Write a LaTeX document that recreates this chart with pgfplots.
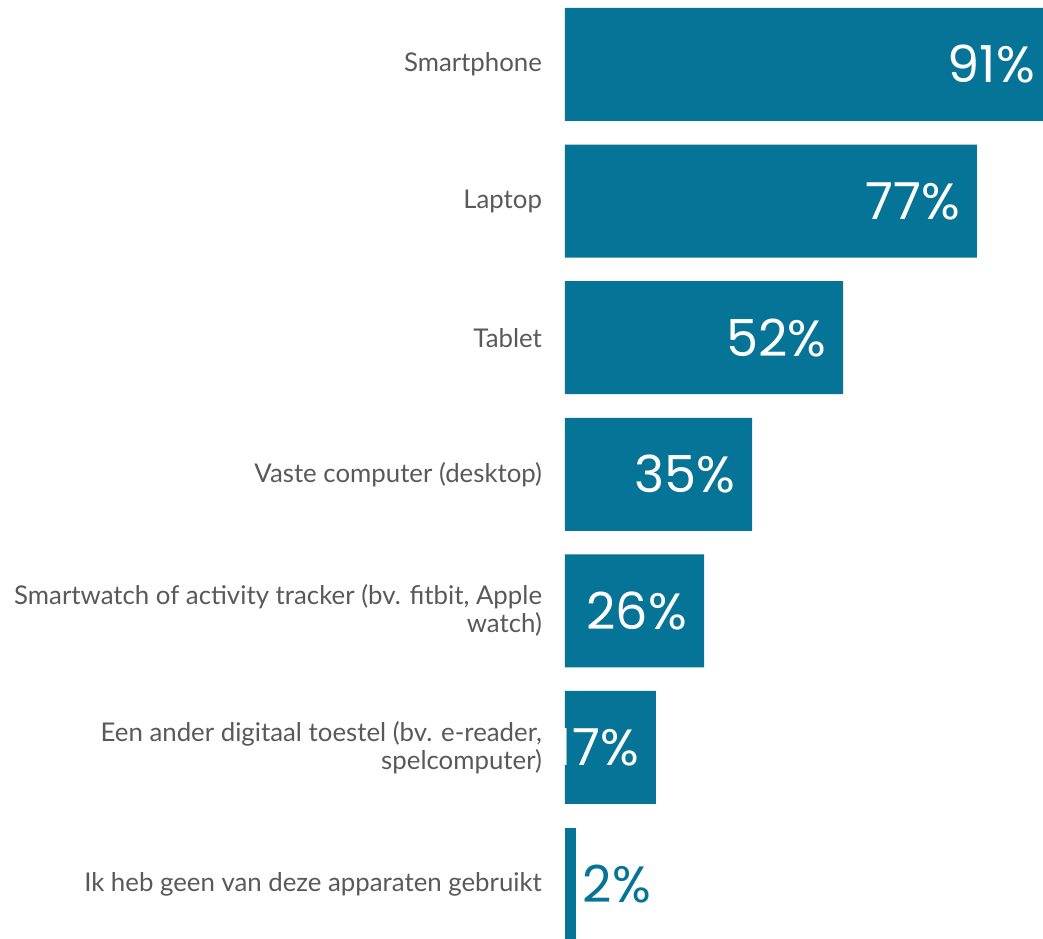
\documentclass[border=0pt]{standalone}
\usepackage{pgfplots}
\pgfplotsset{compat=1.18}
\usepackage{fontspec}
\setmainfont{Lato}
\newfontfamily\pctfont{Poppins}
\definecolor{barblue}{HTML}{057496}
\definecolor{labelgray}{HTML}{595959}
\begin{document}
\begin{tikzpicture}
\begin{axis}[
    scale only axis,
    width=243.4pt, height=469pt,
    xbar, bar width=56.5pt, bar shift=0pt,
    xmin=0, xmax=91,
    ymin=-0.472, ymax=6.395,
    y dir=reverse,
    hide x axis,
    axis y line*=left,
    y axis line style={draw=none},
    ytick={0,...,6},
    yticklabels={Smartphone, Laptop, Tablet, Vaste computer (desktop),
        {Smartwatch of activity tracker (bv. fitbit, Apple\\watch)},
        {Een ander digitaal toestel (bv. e-reader,\\spelcomputer)},
        Ik heb geen van deze apparaten gebruikt},
    yticklabel style={align=right, font=\fontsize{12.9}{14}\selectfont, text=labelgray, xshift=-8pt},
    major tick length=0pt,
    clip=false,
]
\addplot[fill=barblue, draw=none,
    nodes near coords={\pgfmathprintnumber[assume math mode=true]{\pgfplotspointmeta}\%},
    nodes near coords style={anchor=east, xshift=-5pt, text=white,
        font=\pctfont\fontsize{25.5}{25.5}\selectfont}]
    coordinates {(91,0) (77,1) (52,2) (35,3) (26,4) (17,5)};
\addplot[fill=barblue, draw=none,
    nodes near coords={\pgfmathprintnumber[assume math mode=true]{\pgfplotspointmeta}\%},
    nodes near coords style={anchor=west, xshift=0pt, text=barblue,
        font=\pctfont\fontsize{25.5}{25.5}\selectfont}]
    coordinates {(2,6)};
\end{axis}
\pgfresetboundingbox
\path[use as bounding box] (-282.5pt,0) rectangle (239pt,469pt);
\end{tikzpicture}
\end{document}
